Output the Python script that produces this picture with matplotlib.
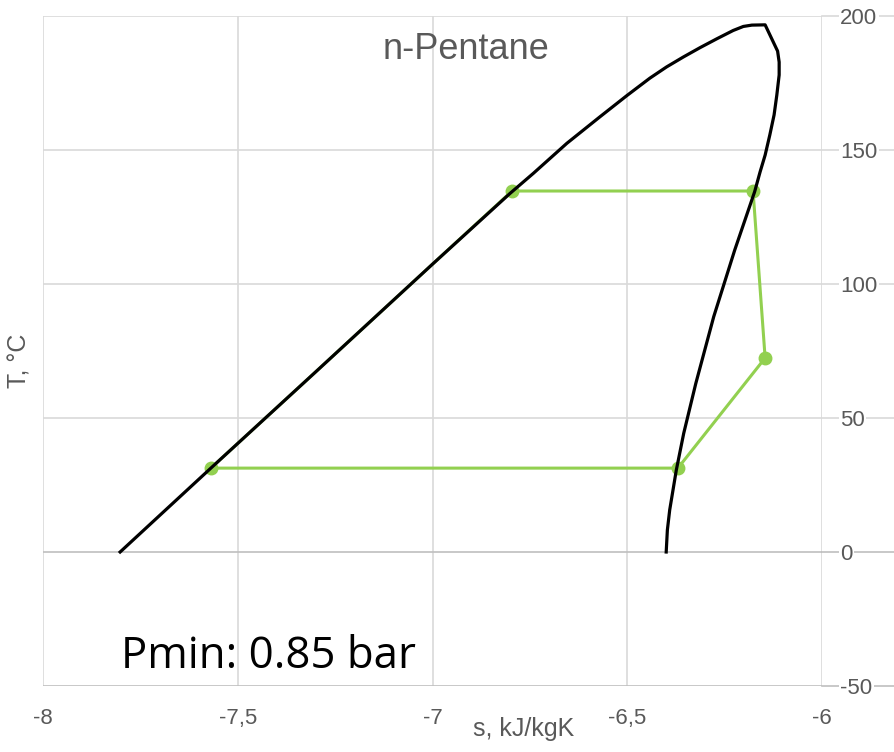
import matplotlib.pyplot as plt
import numpy as np

# %% Data

# saturation dome, liquid side then vapour side
sat_s = [-7.802, -7.569, -7.30, -7.00, -6.801, -6.741, -6.655, -6.570, -6.501,
         -6.442, -6.399, -6.356, -6.313, -6.270, -6.228, -6.202, -6.180, -6.146,
         -6.114, -6.110, -6.110, -6.116, -6.123, -6.134, -6.146, -6.159, -6.173,
         -6.224, -6.278, -6.324, -6.355, -6.374, -6.391, -6.397, -6.400]
sat_T = [0.0, 31.3, 67.2, 107.4, 133.8, 141.3, 152.5, 162.4, 170.3,
         176.8, 181.0, 184.7, 188.2, 191.5, 194.6, 196.1, 196.6, 196.7,
         186.9, 182.8, 178.0, 170.5, 163.1, 155.6, 148.1, 141.8, 134.4,
         112.7, 87.8, 62.9, 44.3, 30.6, 15.7, 8.2, 0.0]

# ORC cycle path (1 -> 2 along the liquid line, 2 -> 3 evaporation, ...)
cycle_s = [-7.569, -7.30, -7.00, -6.796, -6.177, -6.146, -6.370, -7.569]
cycle_T = [31.3, 67.2, 107.4, 134.7, 134.7, 72.4, 31.3, 31.3]

# state points
state_s = [-7.569, -6.796, -6.177, -6.146, -6.370]
state_T = [31.3, 134.7, 134.7, 72.4, 31.3]

xticks = [-8, -7.5, -7, -6.5, -6]
xtick_labels = ['-8', '-7,5', '-7', '-6,5', '-6']
yticks = [-50, 0, 50, 100, 150, 200]
ytick_labels = ['-50', '0', '50', '100', '150', '200']

fluid = 'n-Pentane'
p_min = 'Pmin: 0.85 bar'

# %% Figure

grey = '#595959'
grid = '#d9d9d9'
green = '#92d050'

fig = plt.figure(figsize=(8.94, 7.52), dpi=100)
ax = fig.add_axes([43/894, 1-686/752, (822-43)/894, (686-16)/752])

ax.plot(cycle_s, cycle_T, '-', color=green, lw=2.2, zorder=3)
ax.plot(state_s, state_T, 'o', color=green, ms=9, zorder=3)
ax.plot(sat_s, sat_T, '-', color='black', lw=2.3, zorder=4, solid_joinstyle='round')

ax.set_xlim(-8, -6)
ax.set_ylim(-50, 200)

for x in xticks:
    ax.axvline(x, color=grid, lw=1.2, zorder=1)
for y in yticks:
    c = '#bfbfbf' if y in (0, -50) else grid
    ax.axhline(y, color=c, lw=1.2, zorder=1)
    # gridline runs on past the axis, under the label
    ax.plot([1, 1.1], [y, y], transform=ax.get_yaxis_transform(), color=c,
            lw=1.2, clip_on=False, zorder=1)

for sp in ax.spines.values():
    sp.set_visible(False)

ax.set_xticks(xticks)
ax.set_xticklabels(xtick_labels)
ax.set_yticks(yticks)
ax.set_yticklabels(ytick_labels)
ax.yaxis.tick_right()
ax.tick_params(length=0, labelsize=16, labelcolor=grey, labelfontfamily='Liberation Sans')
ax.tick_params(axis='x', pad=16)
ax.tick_params(axis='y', pad=13)
for lab in ax.get_yticklabels():
    lab.set_bbox(dict(facecolor='white', edgecolor='none', pad=1))
    lab.set_zorder(5)

ax.text(0.543, 0.9354, fluid, transform=ax.transAxes, ha='center', va='baseline',
        fontsize=26, color=grey, family='Liberation Sans')
ax.text(0.1, 0.0273, p_min, transform=ax.transAxes, ha='left', va='baseline',
        fontsize=31.5, color='black', family='Open Sans')

fig.text(524/894, 1-736/752, 's, kJ/kgK', ha='center', va='baseline',
         fontsize=18, color=grey, family='Liberation Sans')
fig.text(19/894, 1-361/752, 'T, °C', ha='center', va='center', rotation=90,
         fontsize=18, color=grey, family='Liberation Sans')

fig.savefig('out.png', dpi=100)
